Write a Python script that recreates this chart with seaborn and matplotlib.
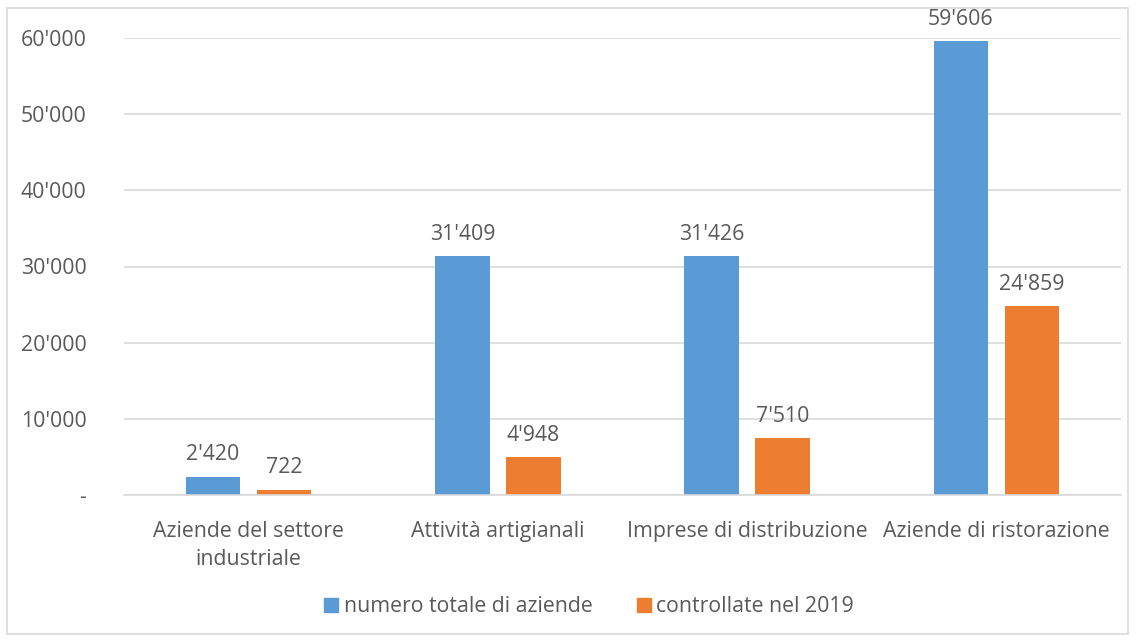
import matplotlib
matplotlib.use("Agg")
import matplotlib.pyplot as plt
import matplotlib.ticker as mticker
import matplotlib.patches as mpatches
import seaborn as sns
import pandas as pd

categories = ["Aziende del settore\nindustriale", "Attività artigianali",
              "Imprese di distribuzione", "Aziende di ristorazione"]
series_names = ["numero totale di aziende", "controllate nel 2019"]
totale = [2420, 31409, 31426, 59606]
controllate = [722, 4948, 7510, 24859]
colors = ["#5B9BD5", "#ED7D31"]

df = pd.DataFrame({
    "categoria": categories * 2,
    "serie": [series_names[0]] * 4 + [series_names[1]] * 4,
    "valore": totale + controllate,
})

sns.set_theme(style="white")
plt.rcParams["font.family"] = ["Open Sans", "DejaVu Sans"]
text_color = "#595959"
fs = 15.3

fig = plt.figure(figsize=(11.36, 6.42), dpi=100)
ax = fig.add_axes([124 / 1136, 1 - 495 / 642, (1121 - 124) / 1136, (495 - 38) / 642])

sns.barplot(data=df, x="categoria", y="valore", hue="serie", order=categories,
            hue_order=series_names, palette=colors, width=0.57, gap=0.23,
            ax=ax, saturation=1, legend=True, edgecolor="none")

ax.set_ylim(0, 60000)
ax.set_xlim(-0.5, 3.5)
ax.set_yticks(range(0, 60001, 10000))

def fmt(v, pos=None):
    if v == 0:
        return "-"
    return f"{int(round(v)):,}".replace(",", "'")

ax.yaxis.set_major_formatter(mticker.FuncFormatter(fmt))
ax.grid(axis="y", color="#D9D9D9", linewidth=1.2)
ax.set_axisbelow(True)
for s in ["top", "right", "left"]:
    ax.spines[s].set_visible(False)
ax.spines["bottom"].set_color("#D9D9D9")
ax.spines["bottom"].set_linewidth(1.2)
ax.tick_params(axis="y", length=0, pad=27, labelsize=fs, labelcolor=text_color)
ax.tick_params(axis="x", length=0, pad=19, labelsize=fs, labelcolor=text_color)
for lbl in ax.get_xticklabels():
    lbl.set_linespacing(1.4)
ax.set_xlabel("")
ax.set_ylabel("")

for cont in ax.containers:
    ax.bar_label(cont, labels=[fmt(v) for v in cont.datavalues], padding=8,
                 fontsize=fs, color=text_color)

ax.legend_.remove()
handles = [mpatches.Patch(color=c, label=n) for c, n in zip(colors, series_names)]
fig.legend(handles=handles, loc="center", bbox_to_anchor=(589 / 1136, 1 - 607 / 642),
           ncol=2, frameon=False, fontsize=fs, labelcolor=text_color,
           handlelength=0.65, handleheight=0.65, handletextpad=0.25, columnspacing=2.1)

fig.patches.append(mpatches.Rectangle((7 / 1136, 1 - 634 / 642), (1128 - 7) / 1136,
                                      (634 - 8) / 642, transform=fig.transFigure,
                                      fill=False, edgecolor="#D9D9D9", linewidth=1.2))

fig.savefig("out.png", dpi=100)
